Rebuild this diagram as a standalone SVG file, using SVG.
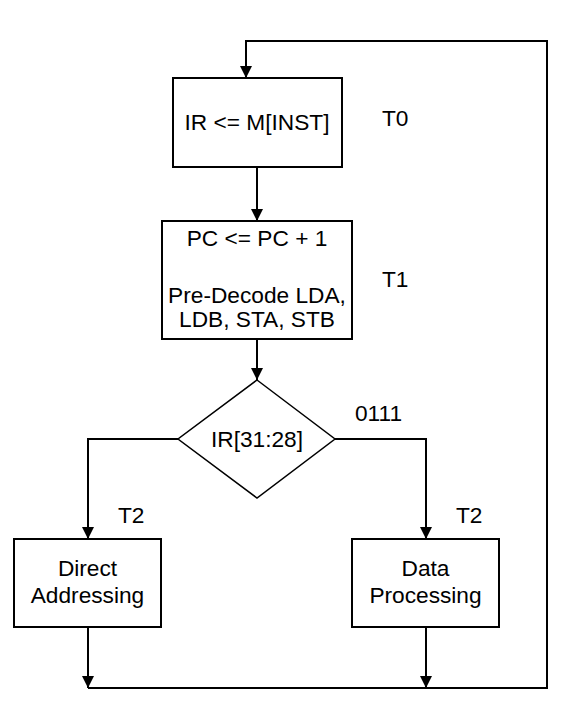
<svg xmlns="http://www.w3.org/2000/svg" width="567" height="718" viewBox="0 0 567 718">
<style>
.box{fill:#fff;stroke:#000;stroke-width:2}
.dia{fill:#fff;stroke:#000;stroke-width:1.5}
.t{font-family:"Liberation Sans",Arial,sans-serif;font-size:22.7px;fill:#000}
.c{text-anchor:middle}
.ln{fill:none;stroke:#000;stroke-width:2}
</style>
<defs>
<marker id="ah" markerUnits="userSpaceOnUse" markerWidth="12" markerHeight="12" refX="12" refY="6" orient="auto">
<path d="M0,0 L12,6 L0,12 z" fill="#000"/>
</marker>
</defs>
<rect width="567" height="718" fill="#fff"/>
<g id="connectors">
<path class="ln" d="M257,167 V221" marker-end="url(#ah)"/>
<path class="ln" d="M257,339 V380" marker-end="url(#ah)"/>
<path class="ln" d="M178,439 H88 V539" marker-end="url(#ah)"/>
<path class="ln" d="M335,439 H426 V539" marker-end="url(#ah)"/>
<path class="ln" d="M88,627 V688" marker-end="url(#ah)"/>
<path class="ln" d="M426,627 V688" marker-end="url(#ah)"/>
<path class="ln" d="M88,688 H547 V41 H246 V78" marker-end="url(#ah)"/>
</g>
<g id="n_fetch">
<rect class="box" x="173" y="78" width="169" height="89"/>
<text class="t c" x="257" y="130">IR &lt;= M[INST]</text>
</g>
<g id="l_t0"><text class="t" x="382" y="126">T0</text></g>
<g id="n_decode">
<rect class="box" x="162" y="221" width="190" height="118"/>
<text class="t c" x="257" y="246">PC &lt;= PC + 1</text>
<text class="t c" x="257" y="303">Pre-Decode LDA,</text>
<text class="t c" x="257" y="327">LDB, STA, STB</text>
</g>
<g id="l_t1"><text class="t" x="382" y="287">T1</text></g>
<g id="n_decision">
<polygon class="dia" points="257,380 335,439 257,498 178,439"/>
<text class="t c" x="257" y="447">IR[31:28]</text>
</g>
<g id="l_0111"><text class="t" x="355" y="421">0111</text></g>
<g id="l_t2a"><text class="t" x="118" y="523">T2</text></g>
<g id="l_t2b"><text class="t" x="456" y="523">T2</text></g>
<g id="n_direct">
<rect class="box" x="14" y="539" width="147" height="88"/>
<text class="t c" x="87.5" y="576">Direct</text>
<text class="t c" x="87.5" y="603">Addressing</text>
</g>
<g id="n_data">
<rect class="box" x="352" y="539" width="147" height="88"/>
<text class="t c" x="425.5" y="576">Data</text>
<text class="t c" x="425.5" y="603">Processing</text>
</g>
</svg>
